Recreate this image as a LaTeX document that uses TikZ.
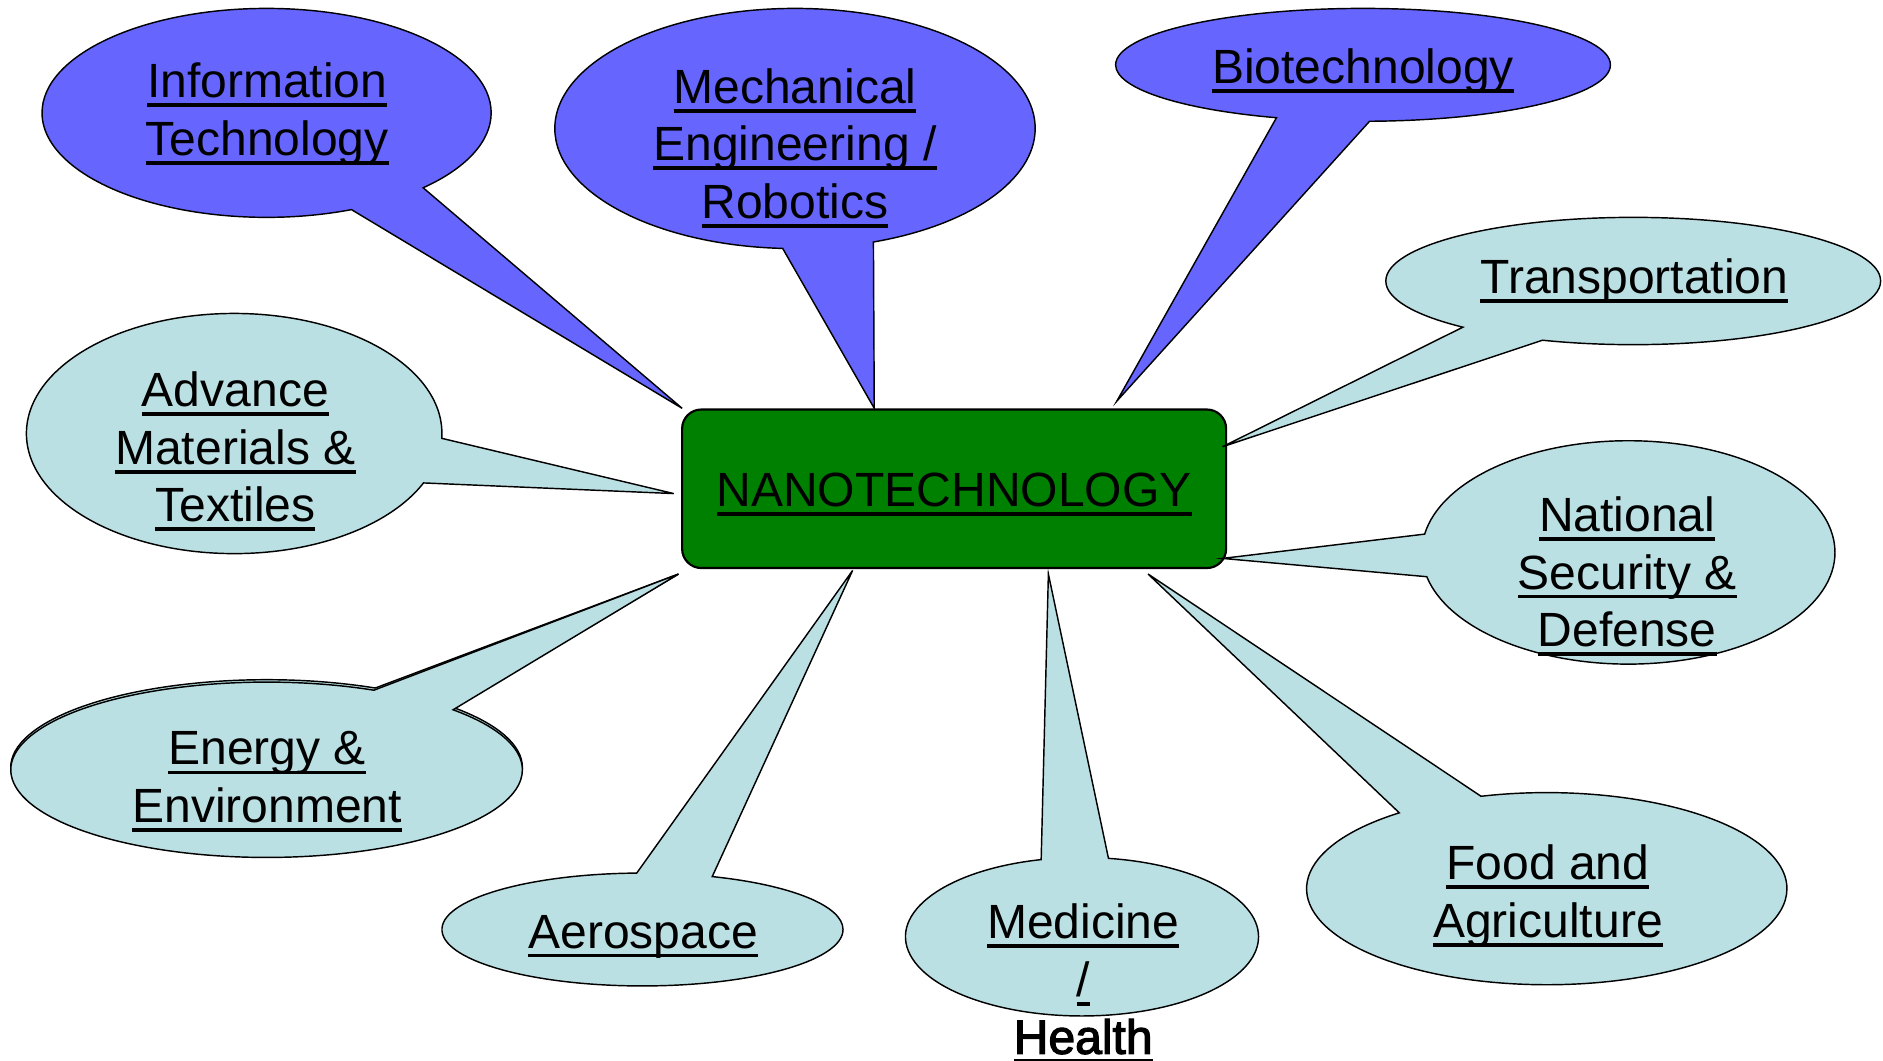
\documentclass[tikz,border=0pt]{standalone}
\usepackage{fontspec}
\setmainfont{Liberation Sans}
\newfontfamily\heavy{Liberation Sans}[FakeBold=2.5]
\usepackage{tikz}
\definecolor{bb}{RGB}{102, 102, 255}
\definecolor{lb}{RGB}{187, 224, 227}
\definecolor{gg}{RGB}{0, 128, 0}
\usetikzlibrary{shapes.callouts}

% underline that runs through the descenders
\newcommand{\uln}[1]{\strut\setbox0\hbox{#1}\rlap{\rule[-3.9pt]{\wd0}{1.6pt}}\box0}

\begin{document}
\begin{tikzpicture}[
  bubble/.style={ellipse callout, callout pointer arc=22, inner sep=0pt, line width=0.6pt, draw=black},
  topic/.style={align=center, inner sep=0pt, font=\fontsize{20pt}{24pt}\selectfont}]
\useasboundingbox (0pt, 0pt) rectangle (784.0pt, -441.5pt);
\node (nano) [rectangle, rounded corners=8pt, fill=gg, line width=0.9pt, draw=black, minimum width=226.5pt, minimum height=66pt, inner sep=0pt, text height=14.5pt, text depth=0pt, font=\fontsize{20pt}{24pt}\selectfont] at (397.25pt, -203.5pt) {\uln{NANOTECHNOLOGY}};
% pointer tips round the centre box
\coordinate (t-it) at (284.0pt, -170.0pt);
\coordinate (t-mech) at (364.0pt, -170.0pt);
\coordinate (t-bio) at (465.0pt, -167.0pt);
\coordinate (t-tra) at (509.0pt, -186.0pt);
\coordinate (t-nat) at (509.0pt, -232.5pt);
\coordinate (t-food) at (478.0pt, -239.0pt);
\coordinate (t-med) at (436.5pt, -239.0pt);
\coordinate (t-aero) at (355.0pt, -237.5pt);
\coordinate (t-ene) at (282.5pt, -239.0pt);
\coordinate (t-adv) at (280.5pt, -205.5pt);
% bubbles
\node (it) [bubble, fill=bb, minimum width=187pt, minimum height=87pt, callout absolute pointer={(t-it)}] at (111.0pt, -47.0pt) {};
\node (mech) [bubble, fill=bb, minimum width=200pt, minimum height=100pt, callout absolute pointer={(t-mech)}] at (331.0pt, -53.5pt) {};
\node (bio) [bubble, fill=bb, minimum width=206pt, minimum height=47pt, callout absolute pointer={(t-bio)}] at (567.5pt, -27.0pt) {};
\node (tra) [bubble, fill=lb, minimum width=206pt, minimum height=53pt, callout absolute pointer={(t-tra)}] at (680.0pt, -117.0pt) {};
\node (nat) [bubble, fill=lb, minimum width=172pt, minimum height=93pt, callout absolute pointer={(t-nat)}] at (678.0pt, -230.0pt) {};
\node (food) [bubble, fill=lb, minimum width=200pt, minimum height=80pt, callout absolute pointer={(t-food)}] at (644.0pt, -370.0pt) {};
\node (med) [bubble, fill=lb, minimum width=147pt, minimum height=66pt, callout absolute pointer={(t-med)}] at (450.5pt, -390.0pt) {};
\node (aero) [bubble, fill=lb, minimum width=167pt, minimum height=47pt, callout absolute pointer={(t-aero)}] at (267.5pt, -387.0pt) {};
\node (ene-s) [bubble, fill=lb, minimum width=213pt, minimum height=73pt, callout absolute pointer={(t-ene)}, yshift=1pt] at (111.0pt, -320.5pt) {};
\node (ene) [bubble, fill=lb, minimum width=213pt, minimum height=73pt, callout absolute pointer={(t-ene)}] at (111.0pt, -320.5pt) {};
\node (adv) [bubble, fill=lb, minimum width=173pt, minimum height=100pt, callout absolute pointer={(t-adv)}] at (97.5pt, -180.5pt) {};
% labels
\node (it-txt) [topic] at (111.25pt, -47.95pt) {\uln{Information}\\\uln{Technology}};
\node (mech-txt) [topic] at (331.0pt, -62.2pt) {\uln{Mechanical}\\\uln{Engineering /}\\\uln{Robotics}};
\node (bio-txt) [topic] at (567.5pt, -29.95pt) {\uln{Biotechnology}};
\node (tra-txt) [topic] at (680.5pt, -117.45pt) {\uln{Transportation}};
\node (nat-txt) [topic] at (677.5pt, -240.45pt) {\uln{National}\\\uln{Security \&}\\\uln{Defense}};
\node (food-txt) [topic] at (644.5pt, -373.45pt) {\uln{Food and}\\\uln{Agriculture}};
\node (med-txt) [topic] at (451.0pt, -409.95pt) {\uln{Medicine}\\\uln{/}\\\uln{\heavy Health}};
\node (aero-txt) [topic] at (267.75pt, -389.95pt) {\uln{Aerospace}};
\node (ene-txt) [topic] at (111.25pt, -325.7pt) {\uln{Energy \&}\\\uln{Environment}};
\node (adv-txt) [topic] at (98.0pt, -188.45pt) {\uln{Advance}\\\uln{Materials \&}\\\uln{Textiles}};
\end{tikzpicture}
\end{document}
